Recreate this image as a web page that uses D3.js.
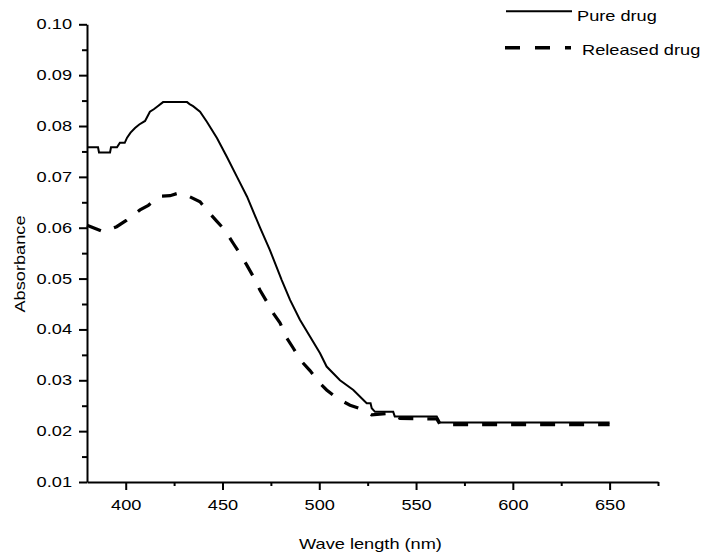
<!DOCTYPE html>
<html><head><meta charset="utf-8">
<script src="https://cdn.jsdelivr.net/npm/d3@7"></script>
<style>
html,body{margin:0;padding:0;background:#fff;}
text{font-family:"Liberation Sans",Arial,sans-serif;fill:#000;}
</style></head>
<body>
<svg id="chart" width="705" height="558"></svg>
<script>
// ---- data ----
const pureWl  = [380,385.7,386.2,391.9,392.4,395.5,397.0,399.5,400.7,402.5,404.8,407,410.0,412.5,414.5,416.2,419.3,431.7,433,434.8,438.4,442.0,447.2,452.3,457.5,462.7,469.4,474.5,480.6,484.9,490.0,495.2,500.4,503.8,510.7,517.6,524.5,526.5,527.1,528.8,538.2,539,541.7,560.7,562.4,650];
const pureAbs = [0.0758,0.0758,0.0748,0.0748,0.0758,0.0758,0.0767,0.0767,0.0777,0.0787,0.0796,0.0803,0.0810,0.0828,0.0833,0.0838,0.0847,0.0847,0.0843,0.0839,0.0828,0.0808,0.0776,0.0739,0.0700,0.0661,0.0600,0.0556,0.0497,0.0458,0.0419,0.0386,0.0353,0.0327,0.0300,0.0281,0.0255,0.0255,0.0245,0.0238,0.0238,0.0229,0.0229,0.0229,0.0217,0.0217];
const relWl   = [380,388.4,395.3,400.5,407.4,411.7,417.7,422.9,427.2,431.5,438.4,441.8,447.0,451.3,455.6,459.0,462.5,465.9,469.4,472.8,476.2,479.7,483.2,486.6,490.9,495.2,500.4,503.8,509.0,515.9,522.7,527.1,536.5,541.7,560.7,562.4,650];
const relAbs  = [0.0605,0.0592,0.0602,0.0615,0.0635,0.0644,0.0662,0.0663,0.0668,0.0664,0.0651,0.0635,0.0613,0.0595,0.0569,0.0549,0.0527,0.0504,0.0477,0.0455,0.0432,0.0413,0.0383,0.0363,0.0337,0.0319,0.0294,0.0281,0.0265,0.0251,0.0242,0.0232,0.0235,0.0225,0.0224,0.0213,0.0213];
const xTicks = [400,450,500,550,600,650];
const xMinor = [425,475,525,575,625,675];
const yTicks = [0.01,0.02,0.03,0.04,0.05,0.06,0.07,0.08,0.09,0.10];
const yMinor = [0.015,0.025,0.035,0.045,0.055,0.065,0.075,0.085,0.095];
const seriesNames = ["Pure drug","Released drug"];
const xTitle = "Wave length (nm)";
const yTitle = "Absorbance";

// ---- layout ----
const SX = 1.3;           // horizontal glyph stretch of the reference font
const FS = 14;
const svg = d3.select("#chart");
const x = d3.scaleLinear().domain([380,675]).range([87,658]);
const y = d3.scaleLinear().domain([0.01,0.10]).range([482,24.3]);

function stretch(sel){
  sel.each(function(){
    const t = d3.select(this);
    const tx = +t.attr("x")||0, ty = +t.attr("y")||0;
    t.attr("x",0).attr("y",0).attr("transform",`translate(${tx},${ty}) scale(${SX},1)`);
  });
}

// minor ticks
svg.append("g").attr("transform",`translate(0,${y(0.01)})`)
  .call(d3.axisBottom(x).tickValues(xMinor).tickSize(4).tickFormat(""))
  .call(g=>g.select(".domain").remove())
  .call(g=>g.selectAll("line").attr("stroke","#000").attr("stroke-width",2));
svg.append("g").attr("transform",`translate(${x(380)},0)`)
  .call(d3.axisLeft(y).tickValues(yMinor).tickSize(5).tickFormat(""))
  .call(g=>g.select(".domain").remove())
  .call(g=>g.selectAll("line").attr("stroke","#000").attr("stroke-width",2));

// major axes
const gx = svg.append("g").attr("transform",`translate(0,${y(0.01)})`)
  .call(d3.axisBottom(x).tickValues(xTicks).tickSize(8).tickSizeOuter(0).tickPadding(10.5).tickFormat(d3.format("d")));
const gy = svg.append("g").attr("transform",`translate(${x(380)},0)`)
  .call(d3.axisLeft(y).tickValues(yTicks).tickSize(8).tickSizeOuter(0).tickPadding(7).tickFormat(d3.format(".2f")));
[gx,gy].forEach(g=>{
  g.select(".domain").attr("stroke","#000").attr("stroke-width",2);
  g.selectAll(".tick line").attr("stroke","#000").attr("stroke-width",2);
  g.selectAll("text").attr("font-size",FS).attr("font-family","Liberation Sans, Arial, sans-serif").attr("fill","#000");
  stretch(g.selectAll("text"));
});

// lines
const line = d3.line().x(d=>x(d[0])).y(d=>y(d[1]));
const pure = pureWl.map((w,i)=>[w,pureAbs[i]]);
const rel  = relWl.map((w,i)=>[w,relAbs[i]]);
svg.append("path").datum(rel).attr("d",line).attr("fill","none")
  .attr("stroke","#000").attr("stroke-width",3.2).attr("stroke-dasharray","15,14");
svg.append("path").datum(pure).attr("d",line).attr("fill","none")
  .attr("stroke","#000").attr("stroke-width",2).attr("stroke-linejoin","miter");

// titles
svg.append("text").attr("font-size",FS).attr("text-anchor","middle")
  .attr("transform",`translate(370.5,549) scale(${SX},1)`).text(xTitle);
svg.append("text").attr("font-size",FS).attr("text-anchor","middle")
  .attr("transform",`translate(25,264) rotate(-90) scale(${SX},1)`).text(yTitle);

// legend
const leg = svg.append("g");
leg.append("line").attr("x1",506).attr("x2",572).attr("y1",11.3).attr("y2",11.3)
  .attr("stroke","#000").attr("stroke-width",2);
leg.append("line").attr("x1",505).attr("x2",571).attr("y1",47.7).attr("y2",47.7)
  .attr("stroke","#000").attr("stroke-width",3.5).attr("stroke-dasharray","15,15");
leg.append("text").attr("font-size",FS)
  .attr("transform",`translate(577,21) scale(${SX},1)`).text(seriesNames[0]);
leg.append("text").attr("font-size",FS)
  .attr("transform",`translate(582,55) scale(${SX},1)`).text(seriesNames[1]);
</script>
</body></html>
